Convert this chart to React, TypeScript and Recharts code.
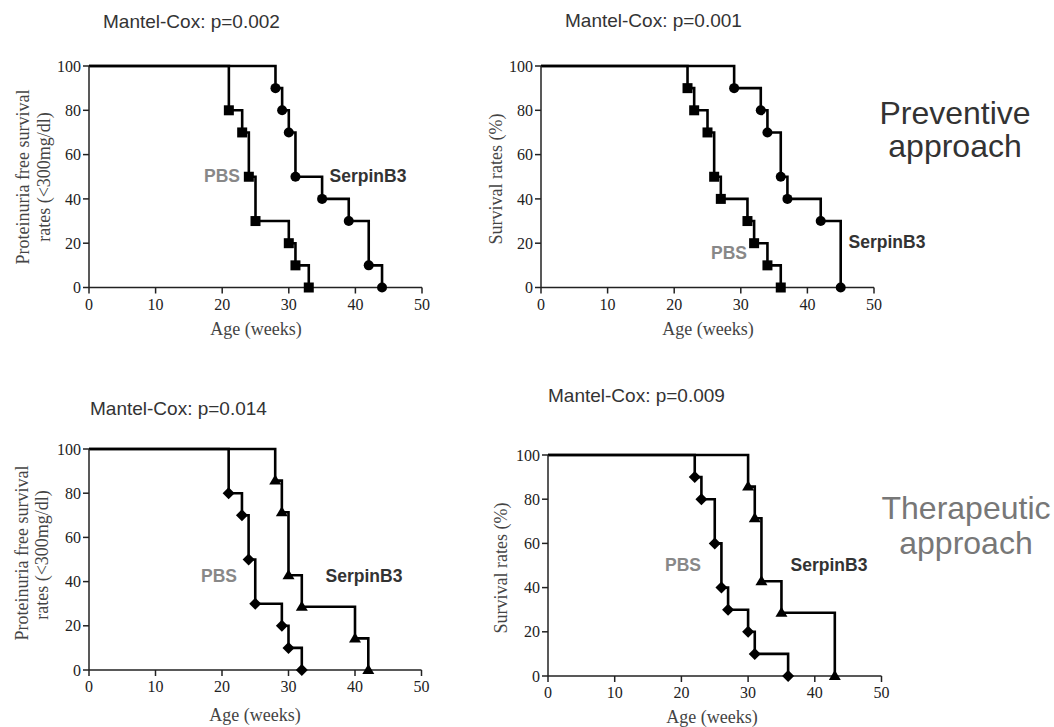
import React from 'react';
import { LineChart, Line, XAxis, YAxis } from 'recharts';

const xTicks = [0, 10, 20, 30, 40, 50];
const yTicks = [0, 20, 40, 60, 80, 100];

// Panel 1: Preventive, proteinuria-free survival
const p1PbsAge = [0, 21, 23, 24, 25, 30, 31, 33];
const p1PbsSurv = [100, 80, 70, 50, 30, 20, 10, 0];
const p1SerAge = [0, 28, 29, 30, 31, 35, 39, 42, 44];
const p1SerSurv = [100, 90, 80, 70, 50, 40, 30, 10, 0];

// Panel 2: Preventive, survival
const p2PbsAge = [0, 22, 23, 25, 26, 27, 31, 32, 34, 36];
const p2PbsSurv = [100, 90, 80, 70, 50, 40, 30, 20, 10, 0];
const p2SerAge = [0, 29, 33, 34, 36, 37, 42, 45];
const p2SerSurv = [100, 90, 80, 70, 50, 40, 30, 0];

// Panel 3: Therapeutic, proteinuria-free survival
const p3PbsAge = [0, 21, 23, 24, 25, 29, 30, 32];
const p3PbsSurv = [100, 80, 70, 50, 30, 20, 10, 0];
const p3SerAge = [0, 28, 29, 30, 32, 40, 42];
const p3SerSurv = [100, 85.7, 71.4, 42.9, 28.6, 14.3, 0];

// Panel 4: Therapeutic, survival
const p4PbsAge = [0, 22, 23, 25, 26, 27, 30, 31, 36];
const p4PbsSurv = [100, 90, 80, 60, 40, 30, 20, 10, 0];
const p4SerAge = [0, 30, 31, 32, 35, 43];
const p4SerSurv = [100, 85.7, 71.4, 42.9, 28.6, 0];

const titles = ['Mantel-Cox: p=0.002', 'Mantel-Cox: p=0.001', 'Mantel-Cox: p=0.014', 'Mantel-Cox: p=0.009'];
const groupNames = ['PBS', 'SerpinB3'];
const xTitle = 'Age (weeks)';
const yTitleProt = ['Proteinuria free survival', 'rates (<300mg/dl)'];
const yTitleSurv = 'Survival rates (%)';

const build = (ages: number[], vals: number[]) => ages.map((x, i) => ({ x, y: vals[i] }));

type Shape = 'square' | 'circle' | 'diamond' | 'triangle';

const makeDot = (shape: Shape) => (props: any) => {
  const { cx, cy, index } = props;
  const key = `dot-${shape}-${index}`;
  if (index === 0 || cx == null || cy == null) return <g key={key} />;
  const f = '#000';
  if (shape === 'square') return <rect key={key} x={cx - 5} y={cy - 5} width={10} height={10} fill={f} />;
  if (shape === 'circle') return <circle key={key} cx={cx} cy={cy} r={5} fill={f} />;
  if (shape === 'diamond')
    return <polygon key={key} points={`${cx},${cy - 6} ${cx + 6},${cy} ${cx},${cy + 6} ${cx - 6},${cy}`} fill={f} />;
  return <polygon key={key} points={`${cx},${cy - 6} ${cx + 6},${cy + 4} ${cx - 6},${cy + 4}`} fill={f} />;
};

const axisStyle = { stroke: '#222', strokeWidth: 1.5 };
const tickStyle = { fill: '#222', fontFamily: '"Liberation Serif", "Times New Roman", serif', fontSize: 16 };

interface PanelProps {
  x0: number; x1: number; y0: number; y1: number;
  pbs: { x: number; y: number }[];
  ser: { x: number; y: number }[];
  pbsShape: Shape; serShape: Shape;
}

const Panel = ({ x0, x1, y0, y1, pbs, ser, pbsShape, serShape }: PanelProps) => {
  const w = x1 - x0 + 90;
  const h = y1 - y0 + 90;
  return (
    <div style={{ position: 'absolute', left: x0 - 60, top: y0 - 30 }}>
      <LineChart width={w} height={h} margin={{ top: 30, right: 30, left: 0, bottom: 30 }}>
        <XAxis type="number" dataKey="x" domain={[0, 50]} ticks={xTicks} height={30}
          axisLine={axisStyle} tickLine={axisStyle} tick={tickStyle} tickMargin={5} interval={0} />
        <YAxis type="number" dataKey="y" domain={[0, 100]} ticks={yTicks} width={60}
          axisLine={axisStyle} tickLine={axisStyle} tick={tickStyle} tickMargin={2} interval={0} />
        <Line data={pbs} dataKey="y" type="stepAfter" stroke="#000" strokeWidth={2.6}
          dot={makeDot(pbsShape)} activeDot={false} isAnimationActive={false} />
        <Line data={ser} dataKey="y" type="stepAfter" stroke="#000" strokeWidth={2.6}
          dot={makeDot(serShape)} activeDot={false} isAnimationActive={false} />
      </LineChart>
    </div>
  );
};

const sans = '"Liberation Sans", Arial, sans-serif';
const serif = '"Liberation Serif", "Times New Roman", serif';

const T = ({ x, y, children, style, align = 'center' }: any) => (
  <div style={{
    position: 'absolute', left: x, top: y, whiteSpace: 'nowrap', lineHeight: 1,
    transform: align === 'center' ? 'translate(-50%,-50%)' : 'translateY(-50%)', ...style,
  }}>{children}</div>
);

const RT = ({ x, y, children, style }: any) => (
  <div style={{
    position: 'absolute', left: x, top: y, whiteSpace: 'nowrap', lineHeight: 1,
    transform: 'translate(-50%,-50%) rotate(-90deg)', ...style,
  }}>{children}</div>
);

const titleStyle = { fontFamily: sans, fontSize: 19, color: '#333' };
const pbsStyle = { fontFamily: sans, fontSize: 17.5, fontWeight: 700, color: '#888' };
const serStyle = { fontFamily: sans, fontSize: 17.5, fontWeight: 700, color: '#333' };
const axTitle = { fontFamily: serif, fontSize: 18, color: '#444' };

export default function App() {
  return (
    <div style={{ position: 'absolute', left: 0, top: 0, width: 1054, height: 727, background: '#fff', overflow: 'hidden' }}>
      <Panel x0={88.5} x1={421.5} y0={65.5} y1={287} pbs={build(p1PbsAge, p1PbsSurv)} ser={build(p1SerAge, p1SerSurv)} pbsShape="square" serShape="circle" />
      <Panel x0={541} x1={874} y0={65.5} y1={287} pbs={build(p2PbsAge, p2PbsSurv)} ser={build(p2SerAge, p2SerSurv)} pbsShape="square" serShape="circle" />
      <Panel x0={89} x1={421.5} y0={449} y1={670} pbs={build(p3PbsAge, p3PbsSurv)} ser={build(p3SerAge, p3SerSurv)} pbsShape="diamond" serShape="triangle" />
      <Panel x0={548} x1={881.5} y0={455} y1={676} pbs={build(p4PbsAge, p4PbsSurv)} ser={build(p4SerAge, p4SerSurv)} pbsShape="diamond" serShape="triangle" />

      <T x={103} y={21} align="left" style={titleStyle}>{titles[0]}</T>
      <T x={565} y={20} align="left" style={titleStyle}>{titles[1]}</T>
      <T x={90} y={408} align="left" style={titleStyle}>{titles[2]}</T>
      <T x={548} y={395} align="left" style={titleStyle}>{titles[3]}</T>

      <T x={222} y={177} style={pbsStyle}>{groupNames[0]}</T>
      <T x={368} y={177} style={serStyle}>{groupNames[1]}</T>
      <T x={729} y={254} style={pbsStyle}>{groupNames[0]}</T>
      <T x={887} y={243} style={serStyle}>{groupNames[1]}</T>
      <T x={219} y={577} style={pbsStyle}>{groupNames[0]}</T>
      <T x={364} y={577} style={serStyle}>{groupNames[1]}</T>
      <T x={683} y={566} style={pbsStyle}>{groupNames[0]}</T>
      <T x={829} y={566} style={serStyle}>{groupNames[1]}</T>

      <T x={256} y={329} style={axTitle}>{xTitle}</T>
      <T x={708} y={329} style={axTitle}>{xTitle}</T>
      <T x={255} y={715} style={axTitle}>{xTitle}</T>
      <T x={712} y={717} style={axTitle}>{xTitle}</T>

      <RT x={23} y={177} style={axTitle}>{yTitleProt[0]}</RT>
      <RT x={44} y={177} style={axTitle}>{yTitleProt[1]}</RT>
      <RT x={496} y={179} style={axTitle}>{yTitleSurv}</RT>
      <RT x={22} y={553} style={axTitle}>{yTitleProt[0]}</RT>
      <RT x={42} y={555} style={axTitle}>{yTitleProt[1]}</RT>
      <RT x={501} y={568} style={axTitle}>{yTitleSurv}</RT>

      <div style={{ position: 'absolute', left: 955, top: 97, transform: 'translateX(-50%)', textAlign: 'center', fontFamily: sans, fontSize: 32, lineHeight: '33px', color: '#333', whiteSpace: 'nowrap' }}>
        Preventive<br />approach
      </div>
      <div style={{ position: 'absolute', left: 966, top: 491, transform: 'translateX(-50%)', textAlign: 'center', fontFamily: sans, fontSize: 32, lineHeight: '35px', color: '#777', whiteSpace: 'nowrap' }}>
        Therapeutic<br />approach
      </div>
    </div>
  );
}
